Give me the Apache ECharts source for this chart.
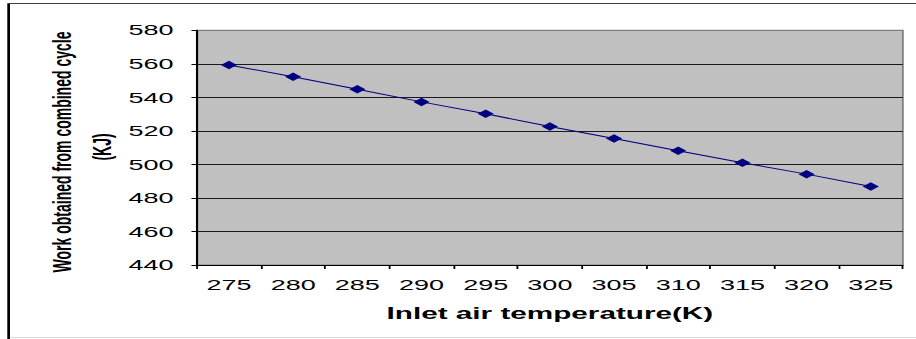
<!DOCTYPE html>
<html>
<head>
<meta charset="utf-8">
<script src="https://cdn.jsdelivr.net/npm/echarts@6/dist/echarts.min.js"></script>
<style>
  html, body { margin: 0; padding: 0; background: #fff; overflow: hidden; }
  /* The chart is laid out narrow and stretched horizontally, like the wide Excel export */
  #chart { width: 509px; height: 339px; transform: scaleX(1.7996); transform-origin: 0 0; }
</style>
</head>
<body>
<div id="chart"></div>
<script>
// Inlet air temperature (K)
const temperatures = ['275', '280', '285', '290', '295', '300', '305', '310', '315', '320', '325'];
// Work obtained from combined cycle (KJ)
const work = [559.3, 552.3, 544.8, 537.3, 530.2, 522.6, 515.5, 508.2, 501.0, 494.2, 486.8];
// Value axis range
const yMin = 440, yMax = 580, yStep = 20;

const font = "'Liberation Sans', Arial, sans-serif";
const chart = echarts.init(document.getElementById('chart'), null, { renderer: 'svg' });

chart.setOption({
  animation: false,
  grid: {
    left: 109.4, right: 7.3, top: 30.3, bottom: 74,
    show: true, backgroundColor: '#C0C0C0',
    borderColor: '#808080', borderWidth: 1
  },
  xAxis: {
    type: 'category',
    data: temperatures,
    boundaryGap: true,
    axisLine: { lineStyle: { color: '#000', width: 1 } },
    axisTick: { show: true, length: 4, lineStyle: { color: '#000' } },
    axisLabel: { color: '#000', fontSize: 15, fontFamily: font, margin: 12 },
    name: 'Inlet air temperature(K)',
    nameLocation: 'middle',
    nameGap: 40,
    nameTextStyle: { color: '#000', fontSize: 16.5, fontWeight: 'bold', fontFamily: font }
  },
  yAxis: {
    type: 'value',
    min: yMin, max: yMax, interval: yStep,
    axisLine: { show: true, lineStyle: { color: '#000', width: 1.2 } },
    axisTick: { show: true, length: 3, lineStyle: { color: '#000' } },
    axisLabel: { color: '#000', fontSize: 15, fontFamily: font, margin: 13 },
    splitLine: {
      show: true,
      lineStyle: {
        color: ['#000', '#1a1a1a', '#1a1a1a', '#1a1a1a', '#1a1a1a', '#1a1a1a', '#1a1a1a', '#808080'],
        width: 1
      }
    }
  },
  series: [{
    type: 'line',
    data: work,
    symbol: 'diamond',
    symbolSize: [9, 8.5],
    lineStyle: { color: '#000080', width: 1 },
    itemStyle: { color: '#000080' }
  }],
  graphic: [
    // frame lines around the chart area
    { type: 'line', shape: { x1: 4.8, y1: 3.5, x2: 4.8, y2: 339 }, style: { stroke: '#000', lineWidth: 1.5 } },
    { type: 'line', shape: { x1: 4.2, y1: 3.5, x2: 509, y2: 3.5 }, style: { stroke: '#404040', lineWidth: 1 } },
    { type: 'line', shape: { x1: 5.5, y1: 337.5, x2: 509, y2: 337.5 }, style: { stroke: '#d9d9d9', lineWidth: 1 } },
    // value axis title, two lines
    {
      type: 'text', x: 34.4, y: 152, rotation: Math.PI / 2,
      style: { text: 'Work obtained from combined cycle', fill: '#000', font: 'bold 14px ' + font,
               textAlign: 'center', textVerticalAlign: 'middle' }
    },
    {
      type: 'text', x: 56.7, y: 147, rotation: Math.PI / 2,
      style: { text: '(KJ)', fill: '#000', font: 'bold 14px ' + font,
               textAlign: 'center', textVerticalAlign: 'middle' }
    }
  ]
});
</script>
</body>
</html>
